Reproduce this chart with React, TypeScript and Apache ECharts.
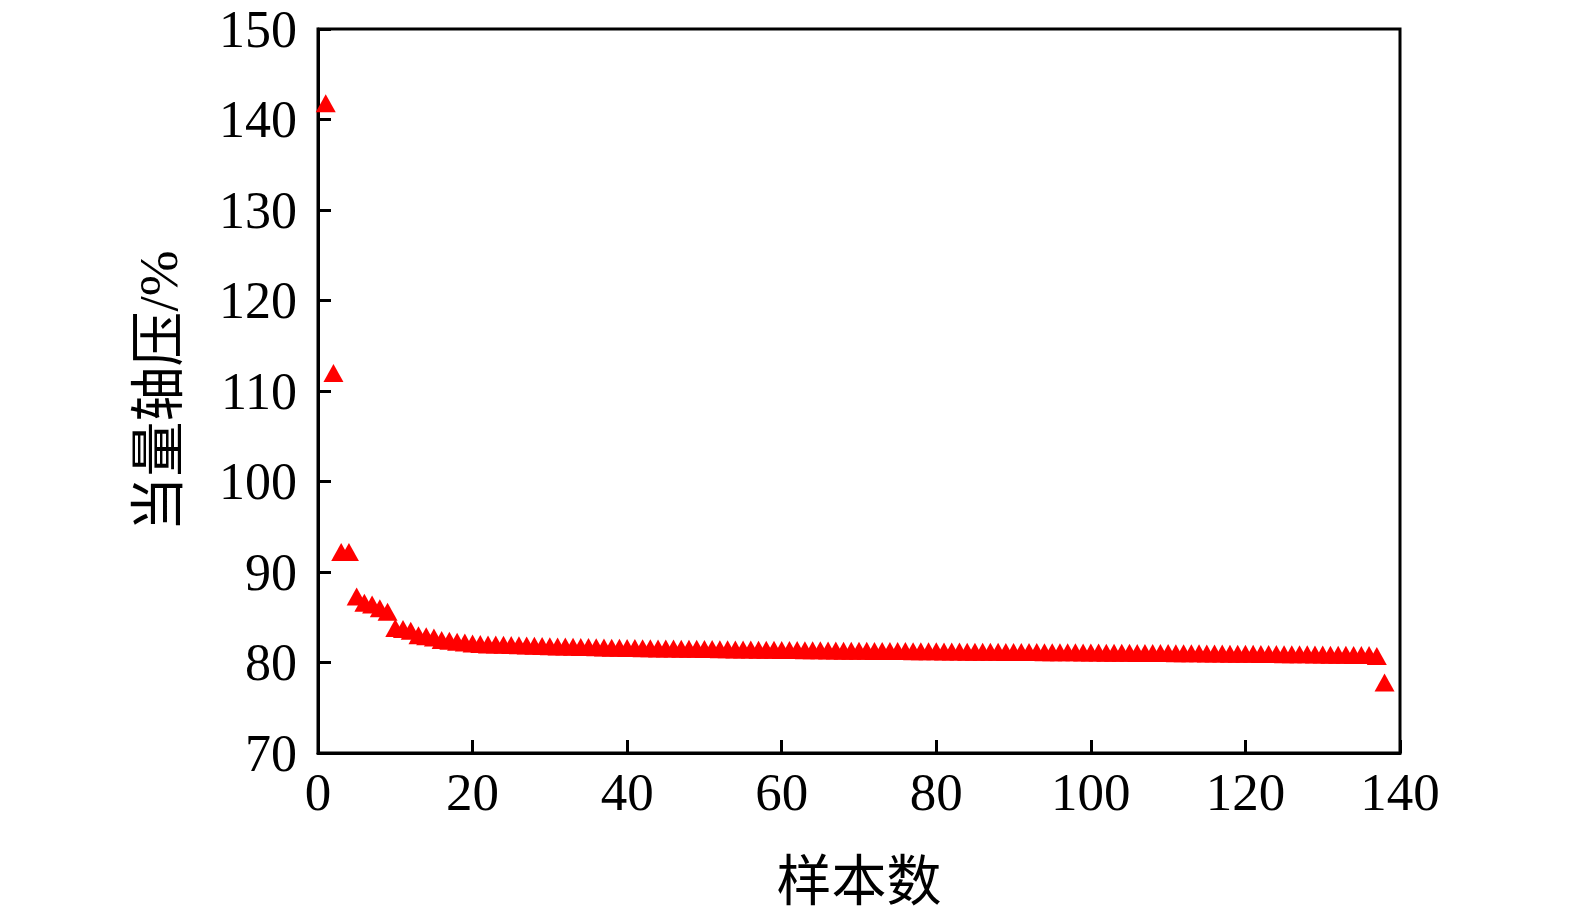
import React, { useEffect, useRef } from "react";
import * as echarts from "echarts";

const xTicks = [0, 20, 40, 60, 80, 100, 120, 140];
const yTicks = [70, 80, 90, 100, 110, 120, 130, 140, 150];

const values = [
  141.8, 112.0, 92.2, 92.2, 87.3, 86.6, 86.4, 86.0, 85.6, 83.8,
  83.7, 83.5, 83.0, 82.9, 82.75, 82.5, 82.4, 82.3, 82.2, 82.1,
  82.05, 82.0, 81.98, 81.95, 81.92, 81.9, 81.88, 81.85, 81.82, 81.8,
  81.78, 81.76, 81.74, 81.72, 81.7, 81.68, 81.66, 81.64, 81.62, 81.6,
  81.59, 81.58, 81.57, 81.56, 81.55, 81.54, 81.53, 81.52, 81.51, 81.5,
  81.49, 81.47, 81.46, 81.45, 81.44, 81.43, 81.42, 81.41, 81.4, 81.39,
  81.38, 81.37, 81.36, 81.35, 81.34, 81.33, 81.32, 81.31, 81.3, 81.3,
  81.29, 81.28, 81.28, 81.27, 81.26, 81.26, 81.25, 81.24, 81.24, 81.23,
  81.22, 81.21, 81.21, 81.2, 81.2, 81.19, 81.18, 81.18, 81.17, 81.17,
  81.16, 81.15, 81.15, 81.14, 81.14, 81.13, 81.12, 81.12, 81.11, 81.1,
  81.1, 81.09, 81.08, 81.08, 81.07, 81.06, 81.06, 81.05, 81.04, 81.04,
  81.03, 81.02, 81.02, 81.01, 81.0, 81.0, 80.99, 80.98, 80.97, 80.96,
  80.96, 80.95, 80.94, 80.93, 80.92, 80.92, 80.91, 80.9, 80.89, 80.88,
  80.87, 80.86, 80.85, 80.84, 80.83, 80.82, 80.72, 77.8,
];

const sampleIndex = values.map((_, i) => i + 1);

export default function App() {
  const ref = useRef<HTMLDivElement>(null);
  useEffect(() => {
    if (!ref.current) return;
    const chart = echarts.init(ref.current, undefined, { renderer: "svg" });
    const serif = "'Liberation Serif', 'Times New Roman', serif";
    const axisCommon = {
      axisLine: { show: true, lineStyle: { color: "#000", width: 3 } },
      axisTick: { show: true, inside: true, length: 13, lineStyle: { color: "#000", width: 3 } },
      splitLine: { show: false },
    };
    chart.setOption({
      animation: false,
      backgroundColor: "#fff",
      grid: {
        left: 318,
        right: 175,
        top: 29,
        bottom: 164,
        show: true,
        borderColor: "#000",
        borderWidth: 3,
        containLabel: false,
      },
      xAxis: {
        type: "value",
        min: xTicks[0],
        max: xTicks[xTicks.length - 1],
        interval: 20,
        ...axisCommon,
        axisLabel: { fontFamily: serif, fontSize: 53, lineHeight: 53, color: "#000", margin: 12 },
        name: "样本数",
        nameLocation: "middle",
        nameGap: 95,
        nameTextStyle: { fontFamily: "'Noto Sans CJK SC', sans-serif", fontSize: 55, color: "#000" },
      },
      yAxis: {
        type: "value",
        min: yTicks[0],
        max: yTicks[yTicks.length - 1],
        interval: 10,
        ...axisCommon,
        axisLabel: { fontFamily: serif, fontSize: 52, lineHeight: 44, color: "#000", margin: 21 },
        name: "当量轴压/%",
        nameLocation: "middle",
        nameGap: 132,
        nameTextStyle: {
          fontFamily: "'Liberation Serif', 'Noto Sans CJK SC', serif",
          fontSize: 55,
          color: "#000",
        },
      },
      series: [
        {
          type: "scatter",
          symbol: "triangle",
          symbolSize: [20, 18],
          itemStyle: { color: "#ff0000", opacity: 1 },
          data: sampleIndex.map((x, i) => [x, values[i]]),
        },
      ],
    });
    return () => chart.dispose();
  }, []);
  return (
    <div
      ref={ref}
      style={{ position: "fixed", left: 0, top: 0, width: 1575, height: 917, background: "#fff" }}
    />
  );
}
